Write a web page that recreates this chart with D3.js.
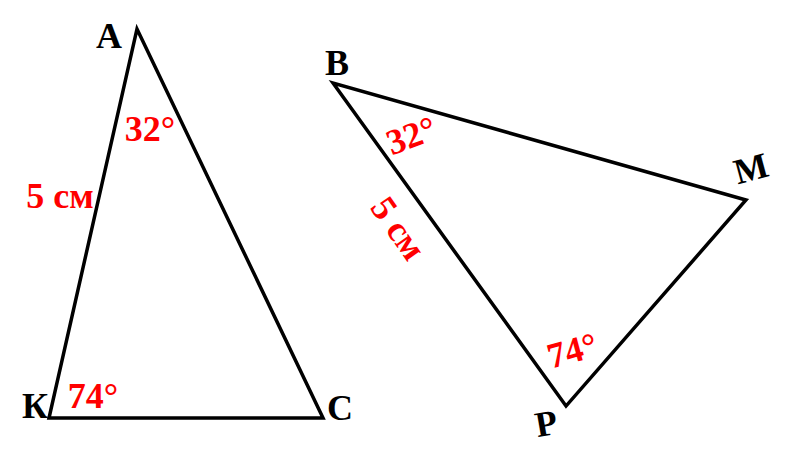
<!DOCTYPE html>
<html>
<head>
<meta charset="utf-8">
<script src="https://cdn.jsdelivr.net/npm/d3@7"></script>
<style>
  body { margin: 0; background: #fff; }
  svg text { font-family: "Liberation Serif", "DejaVu Serif", serif; font-weight: bold; }
</style>
</head>
<body>
<svg class="figure"></svg>
<script>
const size = {w: 800, h: 470};

// vertices of both triangles, in centimetres (figure units, y goes up)
const names1 = ['А', 'К', 'С'];
const xs1 = [1.103, 0, 3.434];
const ys1 = [4.875, 0, 0];

const names2 = ['В', 'Р', 'М'];
const xs2 = [3.559, 6.479, 8.734];
const ys2 = [4.198, 0.150, 2.732];

// given measures (same for both triangles)
const sideText = '5 см';
const angleTexts = ['32°', '74°'];

const svg = d3.select('svg.figure')
    .attr('width', size.w)
    .attr('height', size.h);

// cm -> px
const x = d3.scaleLinear().domain([0, 1]).range([49, 128.8]);
const y = d3.scaleLinear().domain([0, 1]).range([418, 338.2]);

const tri1 = names1.map((n, i) => ({name: n, x: xs1[i], y: ys1[i]}));
const tri2 = names2.map((n, i) => ({name: n, x: xs2[i], y: ys2[i]}));

// label placement, px offsets from the vertex (or side midpoint), and rotation
const layout1 = {
    vertex: [[-28, 6, 0], [-14, -13, 0], [17, -11, 0]],
    angleTop: [13, 99, 0],
    angleBottom: [44, -23, 0],
    side: [-33, -28.5, 0]
};
const layout2 = {
    vertex: [[4, -21, 0], [-20, 17, -10], [5, -32, -15]],
    angleTop: [78, 52, -20],
    angleBottom: [6, -56, -15],
    side: [-50.5, -16.5, 55]
};

const line = d3.line().x(d => x(d.x)).y(d => y(d.y)).curve(d3.curveLinearClosed);

function addText(g, text, px, py, off, color) {
    g.append('text')
        .attr('transform', `translate(${px + off[0]},${py + off[1]}) rotate(${off[2]})`)
        .attr('text-anchor', 'middle')
        .attr('dy', '0.35em')
        .attr('font-size', 36)
        .attr('fill', color)
        .text(text);
}

function drawTriangle(tri, lay) {
    const g = svg.append('g');

    g.append('path')
        .datum(tri)
        .attr('d', line)
        .attr('fill', 'none')
        .attr('stroke', '#000')
        .attr('stroke-width', 3.5)
        .attr('stroke-linejoin', 'miter');

    // vertex letters
    tri.forEach((d, i) => addText(g, d.name, x(d.x), y(d.y), lay.vertex[i], '#000'));

    // angles at the first two vertices
    addText(g, angleTexts[0], x(tri[0].x), y(tri[0].y), lay.angleTop, '#ff0000');
    addText(g, angleTexts[1], x(tri[1].x), y(tri[1].y), lay.angleBottom, '#ff0000');

    // side between them
    const mx = (x(tri[0].x) + x(tri[1].x)) / 2;
    const my = (y(tri[0].y) + y(tri[1].y)) / 2;
    addText(g, sideText, mx, my, lay.side, '#ff0000');
}

drawTriangle(tri1, layout1);
drawTriangle(tri2, layout2);
</script>
</body>
</html>
